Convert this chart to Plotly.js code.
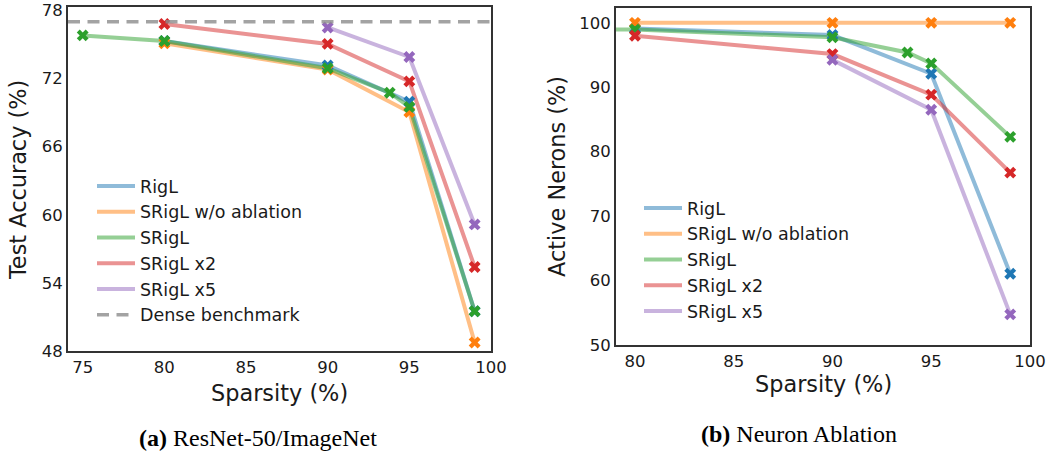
<!DOCTYPE html>
<html>
<head>
<meta charset="utf-8">
<script src="https://cdn.plot.ly/plotly-3.0.1.min.js"></script>
<style>html,body{margin:0;padding:0;background:#fff;}#chart{width:1050px;height:457px;}</style>
</head>
<body>
<div id="chart"></div>
<script>
// ---------- Panel (a): ResNet-50 / ImageNet ----------
const aSparsityRigL = [80, 90, 95, 99];
const aAccRigL      = [75.3, 73.15, 69.95, 51.5];
const aSparsityNoAbl = [80, 90, 95, 99];
const aAccNoAbl      = [75.1, 72.8, 69.05, 48.75];
const aSparsitySRigL = [75, 80, 90, 93.8, 95, 99];
const aAccSRigL      = [75.8, 75.3, 72.9, 70.75, 69.5, 51.5];
const aSparsityX2 = [80, 90, 95, 99];
const aAccX2      = [76.8, 75.05, 71.75, 55.4];
const aSparsityX5 = [90, 95, 99];
const aAccX5      = [76.5, 73.9, 59.15];
const denseX   = [74.1, 100];
const denseAcc = [77.0, 77.0];

// ---------- Panel (b): Neuron ablation ----------
const bSparsityRigL = [80, 90, 95, 99];
const bActRigL      = [99.1, 98.1, 92.1, 61.05];
const bSparsityNoAbl = [80, 90, 95, 99];
const bActNoAbl      = [100, 100, 100, 100];
const bSparsitySRigL = [75, 80, 90, 93.8, 95, 99];
const bActSRigL      = [99.0, 98.95, 97.75, 95.4, 93.7, 82.3];
const bSparsityX2 = [80, 90, 95, 99];
const bActX2      = [98.0, 95.15, 88.85, 76.75];
const bSparsityX5 = [90, 95, 99];
const bActX5      = [94.25, 86.5, 54.75];

const seriesNames = ['RigL', 'SRigL w/o ablation', 'SRigL', 'SRigL x2', 'SRigL x5'];
const aXs = [aSparsityRigL, aSparsityNoAbl, aSparsitySRigL, aSparsityX2, aSparsityX5];
const aYs = [aAccRigL, aAccNoAbl, aAccSRigL, aAccX2, aAccX5];
const bXs = [bSparsityRigL, bSparsityNoAbl, bSparsitySRigL, bSparsityX2, bSparsityX5];
const bYs = [bActRigL, bActNoAbl, bActSRigL, bActX2, bActX5];

const solid = ['rgb(31,119,180)', 'rgb(255,127,14)', 'rgb(44,160,44)', 'rgb(214,39,40)', 'rgb(148,103,189)'];
const faded = ['rgba(31,119,180,0.5)', 'rgba(255,127,14,0.5)', 'rgba(44,160,44,0.5)', 'rgba(214,39,40,0.5)', 'rgba(148,103,189,0.5)'];

const FONT = 'DejaVu Sans, sans-serif';
const TXT = '#1a1a1a';
const W = 1050, H = 457;

const traces = [];
function addPanel(xs, ys, xa, ya, legendId) {
  for (let i = 0; i < xs.length; i++) {
    traces.push({
      type: 'scatter', mode: 'lines', x: xs[i], y: ys[i], xaxis: xa, yaxis: ya,
      name: seriesNames[i], legend: legendId,
      line: {color: faded[i], width: 4}, hoverinfo: 'skip'
    });
  }
  for (let i = 0; i < xs.length; i++) {
    traces.push({
      type: 'scatter', mode: 'markers', x: xs[i], y: ys[i], xaxis: xa, yaxis: ya,
      showlegend: false, legend: legendId,
      marker: {symbol: 'x', size: 10.5, color: solid[i], line: {width: 0}}
    });
  }
}
addPanel(aXs, aYs, 'x', 'y', 'legend');
traces.push({
  type: 'scatter', mode: 'lines', x: denseX, y: denseAcc, xaxis: 'x', yaxis: 'y',
  name: 'Dense benchmark', legend: 'legend',
  line: {color: 'rgba(140,140,140,0.8)', width: 3.5, dash: '12px,7.5px'}
});
addPanel(bXs, bYs, 'x2', 'y2', 'legend2');

function ax(domain, range, tick0, dtick, anchor) {
  return {
    domain: domain, range: range, tick0: tick0, dtick: dtick, anchor: anchor,
    showgrid: false, zeroline: false, ticks: '',
    showline: true, mirror: true, linecolor: '#333', linewidth: 2,
    tickfont: {family: FONT, size: 16.5, color: TXT}
  };
}

const layout = {
  width: W, height: H, autosize: false,
  margin: {l: 0, r: 0, t: 0, b: 0},
  paper_bgcolor: '#fff', plot_bgcolor: '#fff',
  font: {family: FONT, color: TXT},
  xaxis: ax([68 / W, 491 / W], [74.1, 100.001], 75, 5, 'y'),
  yaxis: ax([1 - 351 / H, 1 - 7 / H], [48, 78.3], 48, 6, 'x'),
  xaxis2: ax([616 / W, 1030 / W], [79.04, 100.001], 80, 5, 'y2'),
  yaxis2: ax([1 - 345 / H, 1 - 8 / H], [50, 102.3], 50, 10, 'x2'),
  legend: {
    x: 92 / W, y: 1 - 168 / H, xanchor: 'left', yanchor: 'top',
    bgcolor: 'rgba(0,0,0,0)', borderwidth: 0, itemwidth: 38,
    font: {family: FONT, size: 17.5, color: TXT}
  },
  legend2: {
    x: 639 / W, y: 1 - 190 / H, xanchor: 'left', yanchor: 'top',
    bgcolor: 'rgba(0,0,0,0)', borderwidth: 0, itemwidth: 38,
    font: {family: FONT, size: 17.5, color: TXT}
  },
  annotations: [
    {text: 'Test Accuracy (%)', textangle: -90, x: 18 / W, y: 1 - 180 / H, xref: 'paper', yref: 'paper',
     xanchor: 'center', yanchor: 'middle', showarrow: false, font: {family: FONT, size: 22.4, color: TXT}},
    {text: 'Active Nerons (%)', textangle: -90, x: 557 / W, y: 1 - 177 / H, xref: 'paper', yref: 'paper',
     xanchor: 'center', yanchor: 'middle', showarrow: false, font: {family: FONT, size: 22.4, color: TXT}},
    {text: 'Sparsity (%)', x: 279 / W, y: 1 - 393 / H, xref: 'paper', yref: 'paper',
     xanchor: 'center', yanchor: 'middle', showarrow: false, font: {family: FONT, size: 22.4, color: TXT}},
    {text: 'Sparsity (%)', x: 823 / W, y: 1 - 384 / H, xref: 'paper', yref: 'paper',
     xanchor: 'center', yanchor: 'middle', showarrow: false, font: {family: FONT, size: 22.4, color: TXT}},
    {text: '<b>(a)</b> ResNet-50/ImageNet', x: 257.5 / W, y: 1 - 438 / H, xref: 'paper', yref: 'paper',
     xanchor: 'center', yanchor: 'middle', showarrow: false, font: {family: 'Liberation Serif, serif', size: 24, color: '#000'}},
    {text: '<b>(b)</b> Neuron Ablation', x: 799 / W, y: 1 - 434 / H, xref: 'paper', yref: 'paper',
     xanchor: 'center', yanchor: 'middle', showarrow: false, font: {family: 'Liberation Serif, serif', size: 24, color: '#000'}}
  ]
};

Plotly.newPlot('chart', traces, layout, {staticPlot: true, displayModeBar: false});
</script>
</body>
</html>
